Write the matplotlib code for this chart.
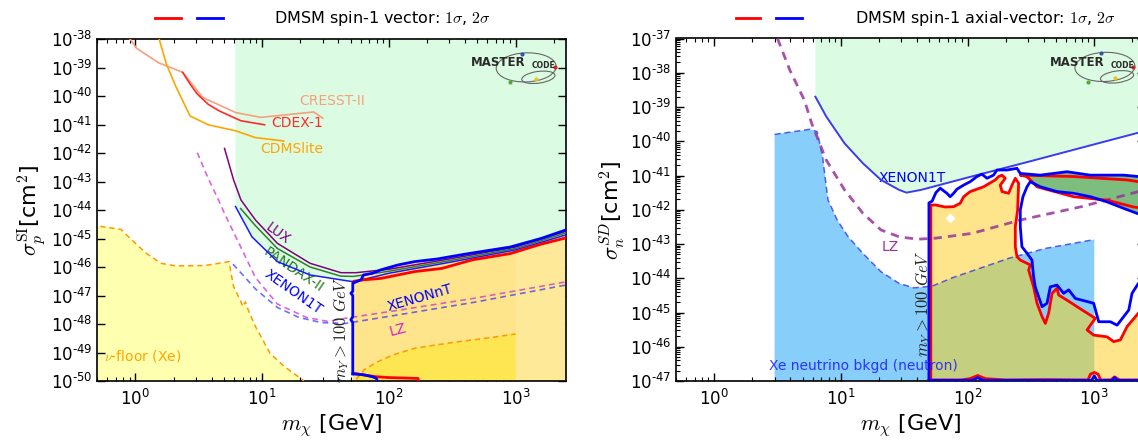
import numpy as np
import matplotlib
matplotlib.use('Agg')
import matplotlib.pyplot as plt
from matplotlib.patches import Ellipse
from matplotlib.lines import Line2D
from matplotlib.ticker import FixedLocator, FuncFormatter, NullLocator

plt.rcParams['font.family'] = ['DejaVu Sans']
plt.rcParams['mathtext.fontset'] = 'cm'

# ======================= DATA (log10 m[GeV], log10 sigma[cm^2]) =======================
# ---------- left panel: spin-independent ----------
cresst_lm = [-0.043, 0.010, 0.181, 0.373, 0.531, 0.79, 0.99, 1.407, 1.479]
cresst_ls = [-38.0, -38.33, -38.83, -39.17, -40.05, -40.58, -40.75, -40.56, -40.78]
cdex_lm = [0.373, 0.431, 0.488, 0.574, 0.66, 0.833, 1.019]
cdex_ls = [-39.17, -39.58, -39.93, -40.29, -40.52, -40.87, -41.01]
cdms_lm = [0.187, 0.244, 0.316, 0.431, 0.574, 0.79, 0.947, 1.171]
cdms_ls = [-38.0, -38.88, -39.64, -40.7, -41.01, -41.22, -41.46, -41.58]
lux_lm = [0.703, 0.775, 0.833, 0.947, 1.12, 1.378, 1.622, 1.74, 2.0, 2.5, 3.0, 3.4]
lux_ls = [-41.84, -42.95, -43.65, -44.35, -45.17, -45.87, -46.2, -46.2, -46.08, -45.7, -45.3, -44.74]
pandax_lm = [0.83, 0.947, 1.12, 1.378, 1.62, 1.72, 2.0, 2.5, 3.0, 3.4]
pandax_ls = [-43.95, -44.55, -45.35, -46.0, -46.32, -46.33, -46.15, -45.76, -45.35, -44.8]
x1t_lm = [0.79, 0.919, 1.12, 1.378, 1.722, 2.0, 2.5, 3.0, 3.4]
x1t_ls = [-43.88, -44.94, -45.81, -46.28, -46.52, -46.22, -45.82, -45.4, -44.87]
lz_lm = [0.488, 0.57, 0.66, 0.712, 0.804, 0.947, 1.12, 1.35, 1.52, 1.657, 2.1, 2.67, 3.4]
lz_ls = [-41.99, -42.85, -43.69, -44.21, -45.05, -46.37, -47.3, -47.77, -47.91, -47.80, -47.5, -47.1, -46.52]
xnt_lm = [0.77, 0.947, 1.12, 1.29, 1.465, 1.657, 2.1, 2.67, 3.4]
xnt_ls = [-45.9, -46.77, -47.42, -47.77, -47.95, -47.98, -47.66, -47.24, -46.63]
floor_lm = [-0.35, -0.301, -0.115, -0.029, 0.086, 0.2, 0.316, 0.546, 0.741, 0.752, 0.775, 0.833,
            0.847, 0.867, 0.89, 0.947, 1.005, 1.062, 1.177, 1.32, 1.36]
floor_ls = [-44.56, -44.56, -44.68, -45.05, -45.52, -45.87, -45.96, -45.95, -45.81, -46.16, -46.69,
            -47.22, -47.39, -47.22, -47.51, -48.09, -48.56, -49.03, -49.5, -49.96, -50.2]
floor2_lm = [1.70, 1.74, 1.804, 1.9, 2.03, 2.205, 2.5, 2.8, 3.0]
floor2_ls = [-50.2, -49.95, -49.61, -49.35, -49.09, -48.85, -48.65, -48.48, -48.35]
# DMSM vector contours
c2v_lm = [1.715, 1.715, 1.70, 1.715, 1.715, 1.70, 1.715, 1.715]
c2v_ls = [-49.75, -47.95, -47.85, -47.75, -47.0, -46.92, -46.85, -46.57]
c2t_lm = [1.715, 1.78, 1.80, 1.87, 1.937, 2.07, 2.205, 2.38, 2.6, 2.957, 3.2, 3.45]
c2t_ls = [-46.57, -46.45, -46.28, -46.22, -46.10, -45.93, -45.81, -45.72, -45.55, -45.30, -45.0, -44.62]
c2b_lm = [1.715, 1.80, 1.87, 1.90, 1.92]
c2b_ls = [-49.75, -49.78, -49.85, -49.9, -50.1]
c1t_lm = [1.725, 1.80, 1.937, 2.07, 2.205, 2.418, 2.658, 2.957, 3.2, 3.45]
c1t_ls = [-46.5, -46.45, -46.40, -46.28, -46.16, -46.05, -45.75, -45.53, -45.2, -44.92]
c1b_lm = [1.725, 1.80, 1.90, 2.0, 2.23, 2.24]
c1b_ls = [-49.73, -49.79, -49.85, -49.88, -49.91, -50.1]

# ---------- right panel: spin-dependent ----------
x1sd_lm = [0.799, 0.885, 1.029, 1.173, 1.317, 1.46, 1.518, 1.633, 2.0, 2.5, 3.0, 3.40]
x1sd_ls = [-38.70, -39.28, -40.06, -40.64, -41.13, -41.42, -41.50, -41.42, -41.06, -40.58, -40.09, -39.70]
lzsd_lm = [0.50, 0.597, 0.712, 0.770, 0.885, 1.029, 1.173, 1.317, 1.46, 1.604, 1.748, 2.036, 2.416, 2.899, 3.40]
lzsd_ls = [-37.0, -37.92, -38.80, -39.48, -40.55, -41.42, -42.10, -42.59, -42.79, -42.86, -42.83, -42.69, -42.30, -41.91, -41.42]
nu_lm = [0.477, 0.477, 0.755, 0.813, 0.856, 0.885, 0.899, 0.971, 1.058, 1.173, 1.317, 1.46, 1.576,
         1.72, 1.892, 2.324, 2.612, 3.0, 3.0]
nu_ls = [-47.5, -39.80, -39.65, -39.72, -40.45, -41.33, -41.715, -42.3, -42.79, -43.27, -43.81, -44.15,
         -44.28, -44.23, -43.97, -43.42, -43.13, -42.87, -47.5]
# 1 sigma (red) main region
r1_lm = [1.71, 1.71, 1.745, 1.824, 1.89, 1.942, 1.969, 2.021, 2.126, 2.218, 2.245, 2.272, 2.298, 2.258,
         2.272, 2.324, 2.351, 2.377, 2.403, 2.395, 2.377, 2.377, 2.39, 2.416, 2.495, 2.482, 2.521, 2.548,
         2.588, 2.614, 2.64, 2.667, 2.706, 2.719, 2.785, 2.864, 3.008, 2.943, 2.995, 3.101, 3.153, 3.206,
         3.259, 3.348, 3.45]
r1_ls = [-47.0, -41.86, -41.86, -41.92, -41.91, -41.81, -41.62, -41.47, -41.33, -41.13, -41.03, -40.99,
         -41.08, -41.28, -41.47, -41.52, -41.28, -41.08, -41.23, -42.01, -42.49, -43.08, -43.37, -43.47,
         -43.61, -43.76, -44.25, -44.73, -45.12, -45.32, -45.02, -44.44, -44.29, -44.49, -44.64, -44.83,
         -45.17, -45.51, -45.66, -45.71, -45.85, -45.80, -45.41, -45.02, -44.85]
r1b_lm = [1.71, 1.95, 2.02, 2.08, 2.14, 2.3, 2.6, 2.95, 2.97, 3.0, 3.03, 3.05, 3.13, 3.16, 3.2, 3.45]
r1b_ls = [-46.97, -46.97, -46.93, -46.84, -46.93, -46.97, -46.96, -46.97, -46.8, -46.75, -46.8, -46.97,
          -46.97, -46.88, -46.97, -46.97]
# 2 sigma (blue)
b2a_lm = [1.695, 1.695, 1.72, 1.75, 1.784, 1.837, 1.863, 1.89, 1.916, 1.969, 2.021, 2.074, 2.113, 2.153,
          2.205, 2.232, 2.311, 2.39, 2.416, 2.574, 2.785, 2.969, 3.232, 3.348, 3.45]
b2a_ls = [-46.98, -41.80, -41.75, -41.5, -41.37, -41.52, -41.62, -41.52, -41.40, -41.28, -41.18, -41.03,
          -40.96, -41.08, -40.99, -40.84, -40.84, -40.79, -40.94, -40.99, -40.89, -40.99, -40.99, -41.03, -41.05]
b2b_lm = [3.45, 3.348, 3.232, 3.101, 2.969, 2.837, 2.706, 2.574, 2.495, 2.469, 2.437, 2.416, 2.416, 2.429,
          2.469, 2.508, 2.521, 2.534, 2.561, 2.588, 2.627, 2.653, 2.706, 2.758, 2.798, 2.851, 2.995, 3.035,
          3.127, 3.18, 3.272, 3.298, 3.348, 3.45]
b2b_ls = [-42.2, -42.12, -41.96, -41.77, -41.62, -41.52, -41.47, -41.33, -41.18, -41.33, -41.62, -42.01,
          -42.49, -43.08, -43.27, -43.47, -43.95, -44.25, -44.54, -44.83, -44.73, -44.25, -44.2, -44.44,
          -44.34, -44.59, -44.73, -45.27, -45.27, -45.37, -44.93, -44.44, -44.15, -43.9]
b2c_lm = [1.695, 2.04, 2.08, 2.12, 2.98, 3.0, 3.02, 3.14, 3.16, 3.18, 3.45]
b2c_ls = [-46.98, -46.98, -46.9, -46.98, -46.98, -46.85, -46.98, -46.98, -46.9, -46.98, -46.98]
# green lobe (1 sigma inside)
lobe_top_lm = [2.416, 2.574, 2.785, 2.969, 3.232, 3.348, 3.45]
lobe_top_ls = [-40.94, -40.99, -40.89, -40.99, -40.99, -41.03, -41.05]
lobe_bot_lm = [3.45, 3.348, 3.232, 3.101, 2.969, 2.837, 2.706, 2.574, 2.495]
lobe_bot_ls = [-42.2, -42.12, -41.96, -41.77, -41.62, -41.52, -41.47, -41.33, -41.18]
r1lobe_lm = [3.45, 3.348, 3.258, 2.837, 2.416, 2.469, 2.548, 2.837, 3.101, 3.31, 3.45]
r1lobe_ls = [-41.2, -41.18, -41.13, -41.03, -40.99, -41.03, -41.33, -41.62, -41.72, -41.92, -41.98]

# ======================= helpers =======================
def M(v):
    return 10 ** np.asarray(v, dtype=float)

W = 1138
H = 440
fig = plt.figure(figsize=(W / 100, H / 100), dpi=100)
axL = fig.add_axes([97.3 / W, 1 - 381 / H, 468.7 / W, 342 / H])
axR = fig.add_axes([676 / W, 1 - 381 / H, 468.7 / W, 342.5 / H])

MINT = '#dcfbe3'
YEL = '#fee48a'
BLUE = '#0000ff'
RED = '#ff0000'


def expfmt(v, pos):
    e = int(round(np.log10(v)))
    if e < 0:
        return '$\\mathdefault{10^{\u2010%d}}$' % (-e)
    return r'$\mathdefault{10^{%d}}$' % e


def style(ax, ylo, yhi, yminor):
    ax.set_xscale('log')
    ax.set_yscale('log')
    ax.set_xlim(0.5, 2500)
    ax.set_ylim(10.0 ** ylo, 10.0 ** yhi)
    ax.yaxis.set_major_locator(FixedLocator(10.0 ** np.arange(ylo, yhi + 1)))
    ax.yaxis.set_major_formatter(FuncFormatter(expfmt))
    if yminor:
        mins = [k * 10.0 ** e for e in range(ylo, yhi) for k in range(2, 10)]
        ax.yaxis.set_minor_locator(FixedLocator(mins))
    else:
        ax.yaxis.set_minor_locator(NullLocator())
    ax.xaxis.set_major_locator(FixedLocator([1, 10, 100, 1000]))
    ax.xaxis.set_major_formatter(FuncFormatter(expfmt))
    xm = [k * 10.0 ** e for e in range(-1, 4) for k in range(2, 10)]
    ax.xaxis.set_minor_locator(FixedLocator(xm))
    ax.tick_params(which='both', direction='in', top=True, right=True, labelsize=12)
    ax.tick_params(which='major', length=6, width=1)
    ax.tick_params(which='minor', length=3, width=0.8)
    ax.tick_params(axis='x', pad=6)
    for s in ax.spines.values():
        s.set_linewidth(1.2)
    ax.set_xlabel(r'$m_\chi$ [GeV]', fontsize=16, labelpad=2)


def logo(ax):
    t = ax.transAxes
    ax.add_patch(Ellipse((0.915, 0.917), 0.128, 0.085, angle=4, transform=t, fill=False,
                         ec='#666666', lw=0.8, zorder=9))
    ax.add_patch(Ellipse((0.941, 0.888), 0.072, 0.034, angle=12, transform=t, fill=False,
                         ec='#666666', lw=0.8, zorder=9))
    for (fx, fy, c) in [(0.906, 0.957, '#3355aa'), (0.976, 0.918, '#dd2222'),
                        (0.880, 0.874, '#55aa33'), (0.936, 0.884, '#f0c020')]:
        ax.plot([fx], [fy], 'o', ms=3, color=c, transform=t, zorder=10, mec='none')
    ax.text(0.797, 0.930, 'MASTER', transform=t, fontsize=8.5, fontweight='heavy',
            color='#2a2a2a', ha='left', va='center', zorder=10)
    ax.text(0.927, 0.922, 'CODE', transform=t, fontsize=5.5, fontweight='bold',
            color='#2a2a2a', ha='left', va='center', zorder=10)


# ======================= LEFT PANEL =======================
ax = axL
style(ax, -50, -38, False)
mint_lm = [0.787] + x1t_lm[:5] + c2t_lm[1:] + [3.45, 0.787]
mint_ls = [-37.5] + x1t_ls[:5] + c2t_ls[1:] + [-37.5, -37.5]
ax.fill(M(mint_lm), M(mint_ls), color=MINT, lw=0, zorder=1)
ax.fill(M(floor_lm + [-0.35]), M(floor_ls + [-50.5]), color='#ffffb0', lw=0, zorder=1)
ax.plot(M(floor_lm), M(floor_ls), color='#ff9900', lw=1.1, dashes=(3.5, 2.5), zorder=5)
reg_lm = c2v_lm + c2t_lm[1:] + [3.45, 1.715]
reg_ls = c2v_ls + c2t_ls[1:] + [-50.5, -50.5]
yel = ax.fill(M(reg_lm), M(reg_ls), color=YEL, lw=0, zorder=2)[0]
light = ax.fill(M([3.0, 3.45, 3.45, 3.0]), M([-50.5, -50.5, -38, -38]), color='#fee998', lw=0, zorder=2.1)[0]
light.set_clip_path(yel)
fl2 = ax.fill(M(floor2_lm + [3.0]), M(floor2_ls + [-50.5]), color='#fde652', lw=0, zorder=2.2)[0]
fl2.set_clip_path(yel)
ax.plot(M(floor2_lm), M(floor2_ls), color='#ff9900', lw=1.1, dashes=(3.5, 2.5), zorder=5)
ax.plot(M(cresst_lm), M(cresst_ls), color='#f7a07c', lw=1.2, zorder=4)
ax.plot(M(cdex_lm), M(cdex_ls), color='#ff2a2a', lw=1.2, zorder=4)
ax.plot(M(cdms_lm), M(cdms_ls), color='#ffa500', lw=1.2, zorder=4)
ax.plot(M(lux_lm), M(lux_ls), color='#800080', lw=1.1, zorder=4)
ax.plot(M(pandax_lm), M(pandax_ls), color='#2e7d2e', lw=1.1, zorder=4)
ax.plot(M(x1t_lm), M(x1t_ls), color='#1a1aff', lw=1.1, zorder=4)
ax.plot(M(lz_lm), M(lz_ls), color='#cc33cc', lw=1.2, alpha=0.75, dashes=(3.5, 2.5), zorder=4)
ax.plot(M(xnt_lm), M(xnt_ls), color='#2222ff', lw=1.2, alpha=0.65, dashes=(3.5, 2.5), zorder=4)
ax.plot(M(c1t_lm), M(c1t_ls), color=RED, lw=2.0, zorder=6)
ax.plot(M(c1b_lm), M(c1b_ls), color=RED, lw=2.0, zorder=6)
ax.plot(M(c2v_lm + c2t_lm[1:]), M(c2v_ls + c2t_ls[1:]), color=BLUE, lw=2.0, zorder=7)
ax.plot(M(c2b_lm), M(c2b_ls), color=BLUE, lw=2.0, zorder=7)
ax.text(10 ** 1.55, 10 ** -40.17, 'CRESST-II', color='#f7a07c', fontsize=10, ha='center', va='center')
ax.text(10 ** 1.278, 10 ** -40.93, 'CDEX-1', color='#ff2a2a', fontsize=10, ha='center', va='center')
ax.text(10 ** 1.235, 10 ** -41.87, 'CDMSlite', color='#ffa500', fontsize=10, ha='center', va='center')
ax.text(10 ** 1.12, 10 ** -44.82, 'LUX', color='#800080', fontsize=10, rotation=-36, ha='center', va='center')
ax.text(10 ** 1.25, 10 ** -46.1, 'PANDAX-II', color='#1e7a1e', fontsize=10, rotation=-34, ha='center', va='center')
ax.text(10 ** 1.25, 10 ** -46.87, 'XENON1T', color=BLUE, fontsize=10, rotation=-35, ha='center', va='center')
ax.text(10 ** 2.244, 10 ** -47.1, 'XENONnT', color=BLUE, fontsize=10, rotation=16, ha='center', va='center', zorder=8)
ax.text(10 ** 2.07, 10 ** -48.21, 'LZ', color='#cc22cc', fontsize=10, rotation=15, ha='center', va='center', zorder=8)
ax.text(10 ** 0.054, 10 ** -49.12, r'$\nu$-floor (Xe)', color='#ffa500', fontsize=10, ha='center', va='center')
ax.text(10 ** 1.62, 10 ** -48.2, r'$m_Y > 100\ GeV$', color='#222222', fontsize=12, rotation=90,
        ha='center', va='center', zorder=8)
ax.set_ylabel(r'$\sigma_p^{\rm SI}$[cm$^2$]', fontsize=16, labelpad=2)
logo(ax)

# ======================= RIGHT PANEL =======================
ax = axR
style(ax, -47, -37, True)
ax.fill(M(nu_lm), M(nu_ls), color='#87cefa', lw=0, zorder=1)
mint_r_lm = [0.799] + x1sd_lm + [3.45, 0.799]
mint_r_ls = [-36.5] + x1sd_ls + [-36.5, -36.5]
ax.fill(M(mint_r_lm), M(mint_r_ls), color=MINT, lw=0, zorder=1)
yel = ax.fill(M(r1_lm + [3.45]), M(r1_ls + [-47.5]), color=YEL, lw=0, zorder=2)[0]
olive = ax.fill(M(nu_lm), M(nu_ls), color='#c5cf80', lw=0, zorder=2.1)[0]
olive.set_clip_path(yel)
ax.fill(M(lobe_top_lm + lobe_bot_lm), M(lobe_top_ls + lobe_bot_ls), color='#7dbd7d', lw=0, zorder=2)
for (fm, fs) in [(2.351, -41.18), (2.311, -41.42), (1.863, -42.25)]:
    ax.plot([10 ** fm], [10 ** fs], 'D', ms=5, color='white', mec='none', zorder=3)
ax.plot(M(nu_lm[1:-1]), M(nu_ls[1:-1]), color='#2222ee', lw=1.1, alpha=0.7, dashes=(4, 2.5), zorder=4)
ax.plot(M(x1sd_lm), M(x1sd_ls), color='#3b3bf0', lw=1.4, zorder=4)
ax.plot(M(lzsd_lm), M(lzsd_ls), color='#993399', lw=2.0, alpha=0.85, dashes=(3, 2.2), zorder=4)
ax.plot(M(r1_lm), M(r1_ls), color=RED, lw=2.0, zorder=6)
ax.plot(M(r1b_lm), M(r1b_ls), color=RED, lw=2.0, zorder=6)
ax.plot(M(r1lobe_lm), M(r1lobe_ls), color=RED, lw=2.0, zorder=6)
ax.plot(M(b2a_lm), M(b2a_ls), color=BLUE, lw=2.0, zorder=7)
ax.plot(M(b2b_lm), M(b2b_ls), color=BLUE, lw=2.0, zorder=7)
ax.plot(M(b2c_lm), M(b2c_ls), color=BLUE, lw=2.0, zorder=7)
ax.text(10 ** 1.561, 10 ** -41.08, 'XENON1T', color=BLUE, fontsize=10, ha='center', va='center')
ax.text(10 ** 1.389, 10 ** -43.08, 'LZ', color='#993399', fontsize=10, ha='center', va='center')
ax.text(10 ** 1.18, 10 ** -46.56, 'Xe neutrino bkgd (neutron)', color='#1a1aff', alpha=0.85,
        fontsize=10, ha='center', va='center', zorder=8)
ax.text(10 ** 1.647, 10 ** -44.73, r'$m_Y > 100\ GeV$', color='#222222', fontsize=12, rotation=90,
        ha='center', va='center', zorder=8)
ax.set_ylabel(r'$\sigma_n^{SD}$[cm$^2$]', fontsize=16, labelpad=2)
logo(ax)

# ======================= legends on top =======================
ly = 1 - 18 / H
for (x0, x1, c) in [(155, 181, RED), (197, 223, BLUE), (736, 760, RED), (776, 802, BLUE)]:
    fig.add_artist(Line2D([x0 / W, x1 / W], [ly, ly], transform=fig.transFigure, color=c, lw=2))
fig.text(274 / W, ly, r'DMSM spin-1 vector: $1\sigma$, $2\sigma$', fontsize=11.5, va='center', ha='left')
fig.text(855 / W, ly, r'DMSM spin-1 axial-vector: $1\sigma$, $2\sigma$', fontsize=11.5, va='center', ha='left')

fig.savefig('out.png', dpi=100)
